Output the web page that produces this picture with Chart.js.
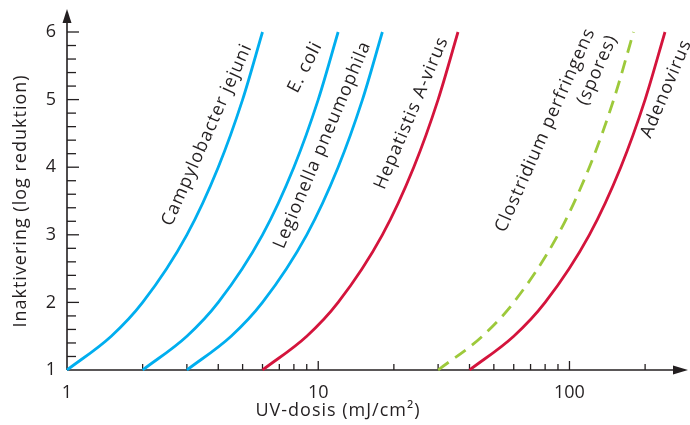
<!DOCTYPE html>
<html>
<head>
<meta charset="utf-8">
<script src="https://cdn.jsdelivr.net/npm/chart.js@4/dist/chart.umd.min.js"></script>
<style>
  body { margin: 0; background: #fff; }
</style>
</head>
<body>
<canvas id="chart" width="690" height="425"></canvas>
<script>
// log reduction (y) and UV dose in mJ/cm2 (x)
const logReduction = [1, 1.5, 2, 3, 4, 5, 6];
const campylobacter = [1, 1.5, 2, 3, 4, 5, 6];
const eColi = [2, 3, 4, 6, 8, 10, 12];
const legionella = [3, 4.5, 6, 9, 12, 15, 18];
const hepatitisA = [6, 9, 12, 18, 24, 30, 36];
const clostridium = [30, 45, 60, 90, 120, 150, 180];
const adenovirus = [40, 60, 80, 120, 160, 200, 240];

const xTickLabels = [1, 10, 100];
const yTickLabels = [1, 2, 3, 4, 5, 6];

const FONT = "'Open Sans', 'Noto Sans', sans-serif";
const TEXT = '#231f20';
const BLUE = 'rgb(0, 174, 239)';
const RED = 'rgb(212, 20, 60)';
const GREEN = 'rgb(157, 201, 59)';

const toPoints = (doses) => doses.map((d, i) => ({ x: d, y: logReduction[i] }));

const series = (label, doses, color, dash) => ({
  label: label,
  data: toPoints(doses),
  borderColor: color,
  borderWidth: 2.8,
  borderDash: dash || [],
  pointRadius: 0,
  cubicInterpolationMode: 'monotone',
  clip: false,
  fill: false
});

// curve labels, anchored at the text centre in data units
const curveLabels = [
  { text: 'Campylobacter jejuni', x: 3.61, y: 4.48, angle: -66 },
  { text: 'E. coli', x: 8.88, y: 5.48, angle: -63 },
  { text: 'Legionella pneumophila', x: 10.4, y: 4.33, angle: -67 },
  { text: 'Hepatistis A-virus', x: 23.5, y: 4.80, angle: -67 },
  { text: 'Clostridium perfringens', x: 80.2, y: 4.55, angle: -66 },
  { text: '(spores)', x: 129, y: 5.44, angle: -66 },
  { text: 'Adenovirus', x: 243, y: 5.16, angle: -67 }
];

const axesPlugin = {
  id: 'axesPlugin',
  beforeDatasetsDraw(chart) {
    const { ctx, scales } = chart;
    const xs = scales.x, ys = scales.y;
    const x0 = xs.getPixelForValue(1);
    const y0 = ys.getPixelForValue(1);
    ctx.save();
    ctx.strokeStyle = TEXT;
    ctx.fillStyle = TEXT;
    ctx.lineWidth = 1.6;

    // y axis with arrow
    ctx.beginPath();
    ctx.moveTo(x0, y0);
    ctx.lineTo(x0, 18);
    ctx.stroke();
    ctx.beginPath();
    ctx.moveTo(x0, 9);
    ctx.lineTo(x0 - 4.5, 23);
    ctx.lineTo(x0 + 4.5, 23);
    ctx.closePath();
    ctx.fill();

    // x axis with arrow
    ctx.beginPath();
    ctx.moveTo(x0, y0);
    ctx.lineTo(680, y0);
    ctx.stroke();
    ctx.beginPath();
    ctx.moveTo(688, y0);
    ctx.lineTo(673, y0 - 4.5);
    ctx.lineTo(673, y0 + 4.5);
    ctx.closePath();
    ctx.fill();

    // y ticks every 0.2
    ctx.lineWidth = 1.3;
    for (let i = 6; i <= 30; i++) {
      const py = ys.getPixelForValue(i / 5);
      const len = i % 5 === 0 ? 12 : 9;
      ctx.beginPath();
      ctx.moveTo(x0, py);
      ctx.lineTo(x0 + len, py);
      ctx.stroke();
    }

    // x ticks
    for (const d of [1, 10, 100]) {
      for (let k = 2; k <= 10; k++) {
        const v = k * d;
        if (v > 250) continue;
        const px = xs.getPixelForValue(v);
        const len = k === 10 ? 9 : 6;
        ctx.beginPath();
        ctx.moveTo(px, y0);
        ctx.lineTo(px, y0 - len);
        ctx.stroke();
      }
    }
    ctx.restore();
  },
  afterDraw(chart) {
    const { ctx, scales } = chart;
    ctx.save();
    ctx.fillStyle = TEXT;
    ctx.font = '18px ' + FONT;
    ctx.letterSpacing = '1px';
    ctx.textAlign = 'center';
    ctx.textBaseline = 'middle';

    // axis titles
    ctx.save();
    ctx.translate(21, 201);
    ctx.rotate(-Math.PI / 2);
    ctx.fillText('Inaktivering (log reduktion)', 0, 0);
    ctx.restore();
    ctx.fillText('UV-dosis (mJ/cm²)', 338, 411);

    // curve labels
    for (const lab of curveLabels) {
      ctx.save();
      ctx.translate(scales.x.getPixelForValue(lab.x), scales.y.getPixelForValue(lab.y));
      ctx.rotate(lab.angle * Math.PI / 180);
      ctx.fillText(lab.text, 0, 0);
      ctx.restore();
    }
    ctx.restore();
  }
};

new Chart(document.getElementById('chart'), {
  type: 'line',
  data: {
    datasets: [
      series('Campylobacter jejuni', campylobacter, BLUE),
      series('E. coli', eColi, BLUE),
      series('Legionella pneumophila', legionella, BLUE),
      series('Hepatistis A-virus', hepatitisA, RED),
      series('Clostridium perfringens (spores)', clostridium, GREEN, [13, 8]),
      series('Adenovirus', adenovirus, RED)
    ]
  },
  options: {
    responsive: false,
    animation: false,
    devicePixelRatio: 1,
    layout: { padding: { top: 32, right: 25, left: 0, bottom: 0 } },
    plugins: { legend: { display: false }, tooltip: { enabled: false } },
    scales: {
      x: {
        type: 'logarithmic',
        min: 1,
        max: 240,
        grid: { display: false, drawTicks: false },
        border: { display: false },
        afterBuildTicks: (scale) => {
          scale.ticks = xTickLabels.map(v => ({ value: v }));
        },
        afterFit: (scale) => { scale.height = 55; },
        ticks: {
          autoSkip: false,
          maxRotation: 0,
          padding: 12,
          color: TEXT,
          font: { family: FONT, size: 18 },
          callback: (v) => String(v)
        }
      },
      y: {
        type: 'linear',
        min: 1,
        max: 6,
        grid: { display: false, drawTicks: false },
        border: { display: false },
        afterBuildTicks: (scale) => {
          scale.ticks = yTickLabels.map(v => ({ value: v }));
        },
        afterFit: (scale) => { scale.width = 67; },
        ticks: {
          padding: 11,
          color: TEXT,
          font: { family: FONT, size: 18 }
        }
      }
    }
  },
  plugins: [axesPlugin]
});
</script>
</body>
</html>
